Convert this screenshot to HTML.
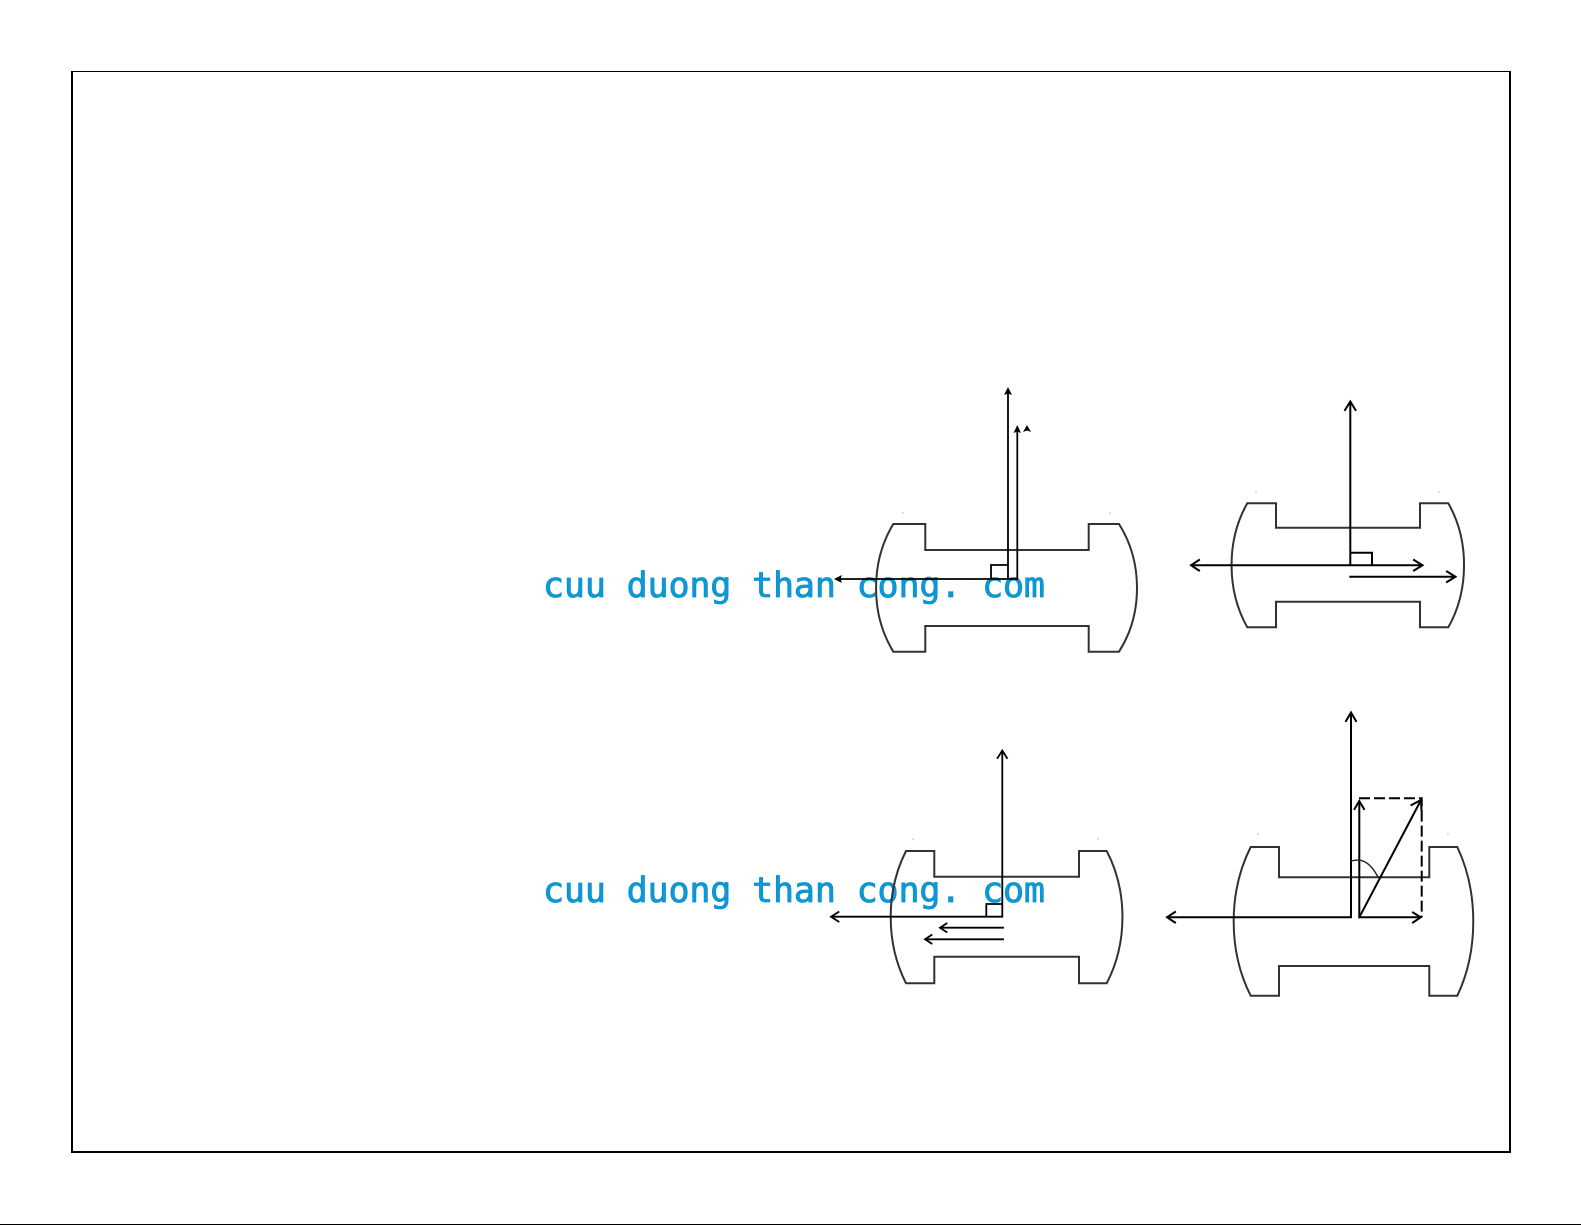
<!DOCTYPE html>
<html>
<head>
<meta charset="utf-8">
<style>
html,body{margin:0;padding:0;background:#fff;}
svg{display:block;}
</style>
</head>
<body>
<svg width="1585" height="1225" viewBox="0 0 1585 1225" xmlns="http://www.w3.org/2000/svg">
<defs>
<filter id="b" x="-5%" y="-5%" width="110%" height="110%"><feGaussianBlur stdDeviation="0.3"/></filter>
</defs>
<rect width="1585" height="1225" fill="#fff"/>
<!-- frame -->
<rect x="71" y="71" width="1440" height="1" fill="#000"/>
<rect x="71" y="71" width="2" height="1082" fill="#000"/>
<rect x="1509" y="71" width="2" height="1082" fill="#000"/>
<rect x="71" y="1151" width="1440" height="2" fill="#000"/>
<rect x="0" y="1224" width="1581" height="1" fill="#000"/>

<!-- watermark -->
<g font-family="'DejaVu Sans Mono','Liberation Mono',monospace" font-size="35" fill="#0a9ad8" stroke="#0a8fcb" stroke-width="0.8">
<text x="543" y="597" textLength="502">cuu duong than cong. com</text>
<text x="543" y="902" textLength="502">cuu duong than cong. com</text>
</g>

<!-- faint specks -->
<g fill="#ddd">
<rect x="902" y="512" width="2" height="2"/><rect x="1109" y="512" width="2" height="2"/>
<rect x="1255" y="491" width="2" height="2"/><rect x="1438" y="491" width="2" height="2"/>
<rect x="912" y="838" width="2" height="2"/><rect x="1097" y="838" width="2" height="2"/>
<rect x="1257" y="833" width="2" height="2"/><rect x="1447" y="833" width="2" height="2"/>
</g>

<g filter="url(#b)" fill="none" stroke-linecap="square">
<!-- shapes -->
<g stroke="#333" stroke-width="2">
<path d="M893.3 524H925.3V550H1088.7V524H1119C1143 562 1143 614 1119 651.7H1088.7V626H925.3V651.7H893.3C870.3 614 870.3 562 893.3 524Z"/>
<path d="M1247.3 503.3H1276V527.7H1420V503.3H1448.3C1469.3 540 1469.3 590 1448.3 627.3H1420V601.7H1276V627.3H1247.3C1226.3 590 1226.3 540 1247.3 503.3Z"/>
<path d="M906 851H934.3V876.7H1079V851H1106.7C1127.7 891 1127.7 943 1106.7 983.3H1079V956.7H934.3V983.3H906C885.6 943 885.6 891 906 851Z"/>
<path d="M1250.7 847H1279V877.3H1429.3V847H1457.3C1478.6 892 1478.6 951 1457.3 995.7H1429.3V966H1279V995.7H1250.7C1228 951 1228 892 1250.7 847Z"/>
</g>

<!-- diagram A -->
<g stroke="#000" stroke-width="1.8">
<path d="M1008 391V579M1017.3 429V579M1017.3 579H838M991 579V565H1008"/>
</g>
<g fill="#000" stroke="none">
<path d="M1008 387L1012 395L1008 393.5L1004 395Z"/>
<path d="M1017.3 425L1021 433L1017.3 431.5L1013.5 433Z"/>
<path d="M1027 425L1031 432L1027 430.5L1023 432Z"/>
<path d="M834 579L842 575L840.5 579L842 583Z"/>
</g>

<!-- diagram B -->
<g stroke="#000" stroke-width="2">
<path d="M1350.3 403V565.3M1192 565.3H1421M1350.3 576.7H1454M1350.3 552.7H1372V565.3"/>
<path d="M1345 410L1350.3 401.5L1355.5 410M1199 560L1191 565.3L1199 570.5M1414 560L1422.5 565.3L1414 570.5M1447 571.5L1455.5 576.7L1447 582"/>
</g>

<!-- diagram C -->
<g stroke="#000" stroke-width="1.8">
<path d="M1002.3 752V916.7H832M986.3 916.7V904H1002.3M1003 927.7H941M1003 939.3H926"/>
<path d="M997.5 758L1002.3 750.5L1007 758M838.5 912L831 916.7L838.5 921.5M946.5 923.5L940 927.7L946.5 932M931.5 935L925 939.3L931.5 943.5"/>
</g>

<!-- diagram D -->
<g stroke="#000" stroke-width="2">
<path d="M1351 714V917.3H1168M1359.3 917.3V802M1359.3 917.3H1420M1359.3 917.3L1420.5 801"/>
<path d="M1346 721L1351 712.5L1356 721M1175 912L1167 917.3L1175 922.5M1354.5 809L1359.3 801L1364 809M1413 912.5L1420.7 917.3L1413 922.5M1411.5 805L1421 800L1421.5 810.5"/>
</g>
<path d="M1359 798.3H1421.7V917" stroke="#000" stroke-width="2" stroke-dasharray="11 4" stroke-linecap="butt"/>
<path d="M1351 861C1362 858 1370 862 1378 877" stroke="#222" stroke-width="1.4"/>
</g>
</svg>
</body>
</html>
